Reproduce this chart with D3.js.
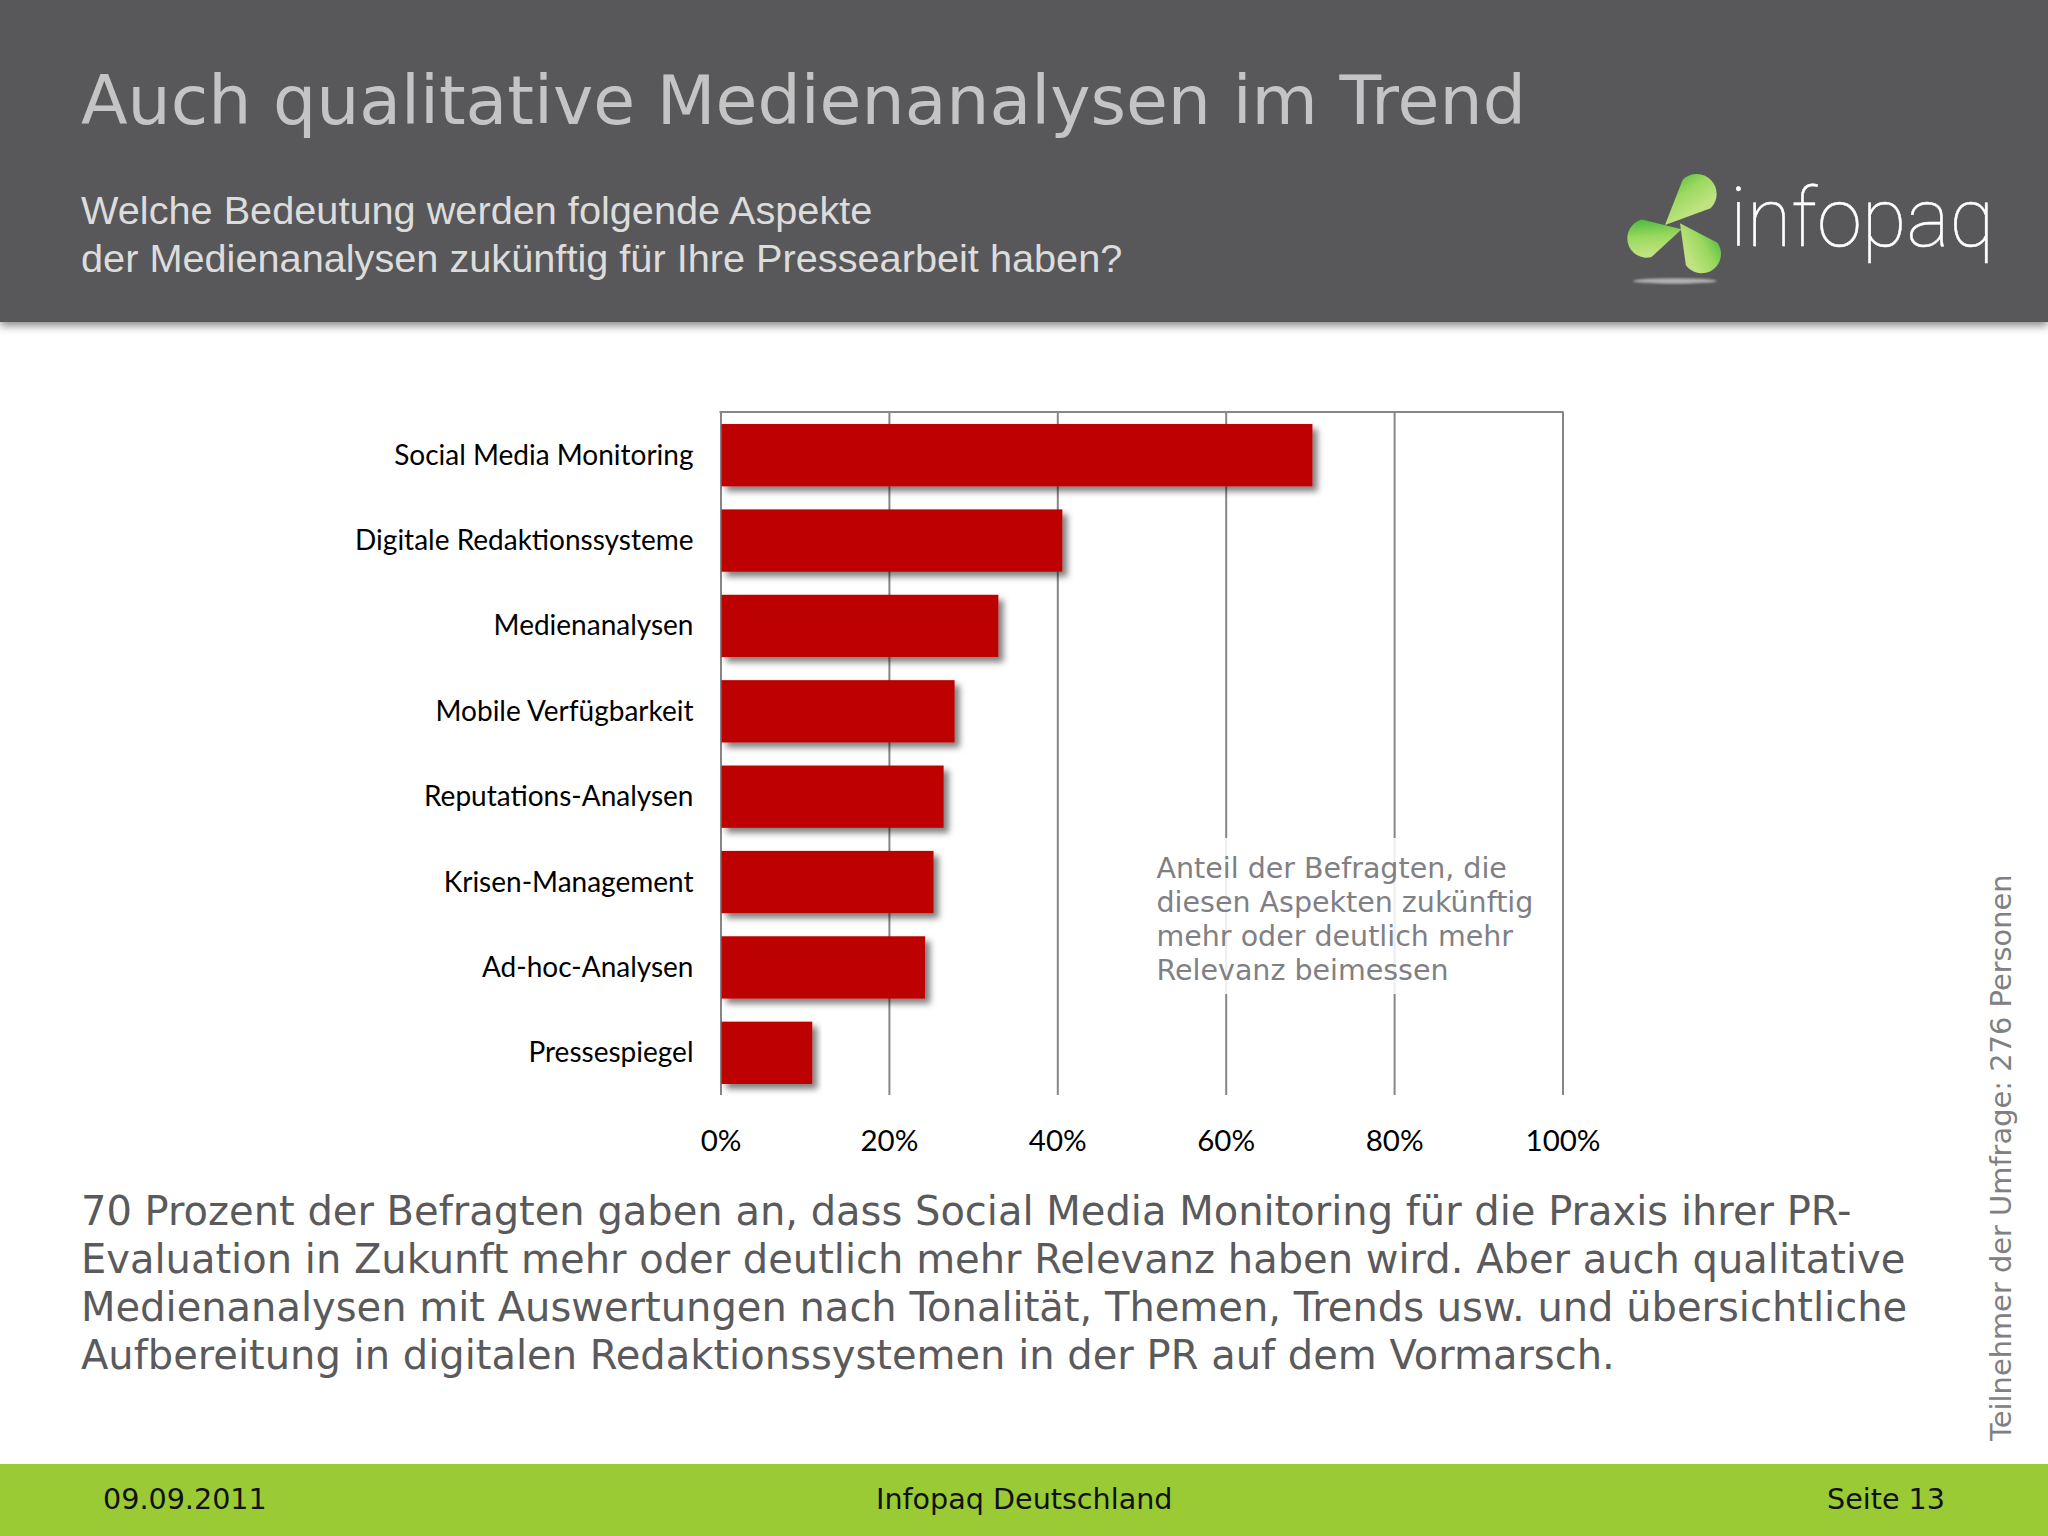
<!DOCTYPE html>
<html>
<head>
<meta charset="utf-8">
<script src="https://cdn.jsdelivr.net/npm/d3@7"></script>
<style>
	html, body { margin: 0; padding: 0; background: #fff; }
	svg { display: block; }
</style>
</head>
<body>
<div id="visDiv"></div>
<script>
(function () {

	var categories = ['Social Media Monitoring', 'Digitale Redaktionssysteme', 'Medienanalysen', 'Mobile Verfügbarkeit', 'Reputations-Analysen', 'Krisen-Management', 'Ad-hoc-Analysen', 'Pressespiegel'];
	var shares = [70.3, 40.6, 33, 27.8, 26.5, 25.3, 24.3, 10.9];
	var tickValues = [0, 20, 40, 60, 80, 100];

	var titleText = 'Auch qualitative Medienanalysen im Trend';
	var subtitleLines = ['Welche Bedeutung werden folgende Aspekte', 'der Medienanalysen zukünftig für Ihre Pressearbeit haben?'];
	var noteLines = ['Anteil der Befragten, die', 'diesen Aspekten zukünftig', 'mehr oder deutlich mehr', 'Relevanz beimessen'];
	var bodyLines = ['70 Prozent der Befragten gaben an, dass Social Media Monitoring für die Praxis ihrer PR-', 'Evaluation in Zukunft mehr oder deutlich mehr Relevanz haben wird. Aber auch qualitative', 'Medienanalysen mit Auswertungen nach Tonalität, Themen, Trends usw. und übersichtliche', 'Aufbereitung in digitalen Redaktionssystemen in der PR auf dem Vormarsch.'];

	var W = 2048, H = 1536,
		plot = {left: 720.5, right: 1562.5, top: 412, bottom: 1095},
		verdana = '"DejaVu Sans", Verdana, sans-serif',
		calibri = 'Lato, sans-serif',
		arial = '"Liberation Sans", Arial, sans-serif';

	var svg = d3.select('#visDiv')
		.append('svg')
			.attr('width', W)
			.attr('height', H)
			.attr('viewBox', '0 0 ' + W + ' ' + H);

	var defs = svg.append('defs');

	// soft shadow under the bars
	defs.append('filter').attr('id', 'barShadow')
		.attr('x', '-5%').attr('y', '-10%').attr('width', '115%').attr('height', '130%')
		.append('feDropShadow')
			.attr('dx', 5).attr('dy', 5).attr('stdDeviation', 3)
			.attr('flood-color', '#000').attr('flood-opacity', 0.5);

	defs.append('filter').attr('id', 'headShadow')
		.attr('x', '0').attr('y', '0').attr('width', '100%').attr('height', '110%')
		.append('feDropShadow')
			.attr('dx', 0).attr('dy', 4).attr('stdDeviation', 4)
			.attr('flood-color', '#000').attr('flood-opacity', 0.45);

	defs.append('filter').attr('id', 'logoBlur')
		.append('feGaussianBlur').attr('stdDeviation', 3);

	// each cone of the logo is dark on a different side
	var coneGrads = [
		{id: 'coneTop', x1: 0.15, y1: 0, x2: 0.6, y2: 0.7},
		{id: 'coneLeft', x1: 0.3, y1: 0, x2: 0.4, y2: 0.9},
		{id: 'coneRight', x1: 1, y1: 0.3, x2: 0.3, y2: 0.8}
	];
	coneGrads.forEach(function(g) {
		var grad = defs.append('linearGradient').attr('id', g.id)
			.attr('x1', g.x1).attr('y1', g.y1).attr('x2', g.x2).attr('y2', g.y2);
		grad.append('stop').attr('offset', '0%').attr('stop-color', '#4fbb40');
		grad.append('stop').attr('offset', '50%').attr('stop-color', '#9bd85f');
		grad.append('stop').attr('offset', '100%').attr('stop-color', '#bfe380');
	});

	//header + footer
	svg.append('rect')
		.attr('width', W).attr('height', 322)
		.attr('fill', '#58585a')
		.attr('filter', 'url(#headShadow)');

	svg.append('rect')
		.attr('y', 1464).attr('width', W).attr('height', H - 1464)
		.attr('fill', '#9acb34');

	svg.append('text')
		.attr('x', 81).attr('y', 124)
		.style('font', '68.1px ' + verdana)
		.attr('fill', '#c4c4c4')
		.text(titleText);

	svg.selectAll('text.sub')
		.data(subtitleLines)
		.enter()
		.append('text')
			.attr('class', 'sub')
			.attr('x', 81)
			.attr('y', function(d,i) { return 224 + i*48; })
			.style('font', '39.7px ' + arial)
			.attr('fill', '#dcdcdc')
			.text(function(d) { return d; });

	// logo
	var logo = svg.append('g').attr('id', 'logo').attr('transform', 'translate(1580,140) scale(0.3333)');

	logo.append('ellipse')
		.attr('cx', 285).attr('cy', 423).attr('rx', 126).attr('ry', 8)
		.attr('fill', '#b0b0b0')
		.attr('filter', 'url(#logoBlur)');

	var cones = [
		{ax: 255, ay: 255, cx: 350, cy: 162, r: 60, grad: 'coneTop'},
		{ax: 305, ay: 268, cx: 200, cy: 295, r: 58, grad: 'coneLeft'},
		{ax: 300, ay: 250, cx: 365, cy: 342, r: 58, grad: 'coneRight'}
	];

	logo.selectAll('path.cone')
		.data(cones)
		.enter()
		.append('path')
			.attr('class', 'cone')
			.attr('fill', function(d) { return 'url(#' + d.grad + ')'; })
			.attr('d', function(d) {
				var a = Math.atan2(d.cy - d.ay, d.cx - d.ax),
					p = d3.path();
				p.moveTo(d.ax, d.ay);
				p.lineTo(d.cx + d.r*Math.cos(a - Math.PI/2), d.cy + d.r*Math.sin(a - Math.PI/2));
				p.arc(d.cx, d.cy, d.r, a - Math.PI/2, a + Math.PI/2);
				p.closePath();
				return p.toString();
			});

	svg.append('text')
		.attr('x', 1730).attr('y', 246)
		.style('font', '100 82px Roboto, sans-serif')
		.attr('fill', '#fff')
		.attr('stroke', '#fff')
		.attr('stroke-width', 0.5)
		.attr('textLength', 264)
		.attr('lengthAdjust', 'spacingAndGlyphs')
		.text('infopaq');

	// chart
	var x = d3.scaleLinear()
		.domain([0, 100])
		.range([plot.left, plot.right]);

	var y = d3.scaleBand()
		.domain(categories)
		.range([plot.top, plot.bottom])
		.paddingInner(0.27)
		.paddingOuter(0.135);

	var xAxis = svg.append('g')
		.attr('class', 'x axis')
		.attr('transform', 'translate(0,' + plot.bottom + ')')
		.call(d3.axisBottom(x)
			.tickValues(tickValues)
			.tickSize(plot.top - plot.bottom)
			.tickPadding(-(plot.bottom - plot.top))
			.tickFormat(function(d) { return d + '%'; }));

	xAxis.select('.domain').remove();
	xAxis.selectAll('.tick line')
		.attr('stroke', '#868686').attr('stroke-width', 2);
	xAxis.selectAll('.tick text')
		.attr('dy', null)
		.attr('y', 56)
		.attr('fill', '#000')
		.style('font', '29.5px ' + calibri);

	svg.append('line')
		.attr('x1', plot.left - 1).attr('x2', plot.right + 1)
		.attr('y1', plot.top).attr('y2', plot.top)
		.attr('stroke', '#868686').attr('stroke-width', 2);

	svg.selectAll('rect.bar')
		.data(shares)
		.enter()
		.append('rect')
			.attr('class', 'bar')
			.attr('x', x(0) + 1)
			.attr('y', function(d,i) { return y(categories[i]) + 0.5; })
			.attr('width', function(d) { return x(d) - x(0) - 1; })
			.attr('height', y.bandwidth())
			.attr('fill', '#bd0000')
			.attr('filter', 'url(#barShadow)');

	var yAxis = svg.append('g')
		.attr('class', 'y axis')
		.attr('transform', 'translate(' + (plot.left - 27) + ',1)')
		.call(d3.axisLeft(y).tickSize(0).tickPadding(0));

	yAxis.select('.domain').remove();
	yAxis.selectAll('.tick text')
		.attr('fill', '#000')
		.style('font', '28px ' + calibri);

	// note over the plot, box lets the gridlines shine through faintly
	svg.append('rect')
		.attr('x', 1148).attr('y', 838).attr('width', 392).attr('height', 156)
		.attr('fill', '#fff').attr('fill-opacity', 0.85);

	svg.selectAll('text.note')
		.data(noteLines)
		.enter()
		.append('text')
			.attr('class', 'note')
			.attr('x', 1156.5)
			.attr('y', function(d,i) { return 877.7 + i*34; })
			.style('font', '28.5px ' + verdana)
			.attr('fill', '#808084')
			.text(function(d) { return d; });

	svg.selectAll('text.body')
		.data(bodyLines)
		.enter()
		.append('text')
			.attr('class', 'body')
			.attr('x', 81)
			.attr('y', function(d,i) { return 1225 + i*48; })
			.style('font', '40px ' + verdana)
			.attr('fill', '#5a5a5c')
			.text(function(d) { return d; });

	svg.append('text')
		.attr('transform', 'translate(2011,1441)rotate(-90)')
		.style('font', '28.9px ' + verdana)
		.attr('fill', '#808084')
		.text('Teilnehmer der Umfrage: 276 Personen');

	// footer texts
	var footY = 1509;
	svg.append('text').attr('x', 103).attr('y', footY)
		.style('font', '28.6px ' + verdana).attr('fill', '#111').text('09.09.2011');
	svg.append('text').attr('x', 876).attr('y', footY)
		.style('font', '28.6px ' + verdana).attr('fill', '#111').text('Infopaq Deutschland');
	svg.append('text').attr('x', 1827).attr('y', footY)
		.style('font', '28.6px ' + verdana).attr('fill', '#111').text('Seite 13');

}());
</script>
</body>
</html>
